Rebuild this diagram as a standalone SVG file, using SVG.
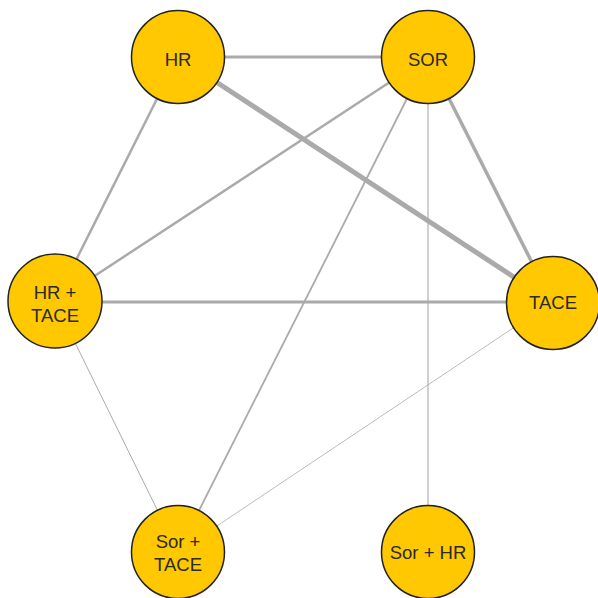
<svg xmlns="http://www.w3.org/2000/svg" width="598" height="598" viewBox="0 0 598 598">
<style>
.e{stroke:#aaaaaa;fill:none;stroke-linecap:butt}
.n circle{fill:#ffc800;stroke:#222;stroke-width:1.5}
.n text{font-family:"Liberation Sans",Arial,sans-serif;font-size:18.5px;fill:#2a2a2a;text-anchor:middle}
</style>
<rect width="598" height="598" fill="#fff"/>
<g id="edges">
<line class="e" x1="178" y1="57" x2="428" y2="57" stroke-width="3.2"/>
<line class="e" x1="178" y1="57" x2="552" y2="302" stroke-width="5"/>
<line class="e" x1="178" y1="57" x2="55" y2="302" stroke-width="2.5"/>
<line class="e" x1="428" y1="57" x2="55" y2="302" stroke-width="2.5"/>
<line class="e" x1="428" y1="57" x2="178" y2="552" stroke-width="1.8"/>
<line class="e" x1="428" y1="57" x2="428" y2="552" stroke-width="1.1" stroke="#bbbbbb"/>
<line class="e" x1="428" y1="57" x2="552" y2="302" stroke-width="3.5"/>
<line class="e" x1="55" y1="302" x2="552" y2="302" stroke-width="3"/>
<line class="e" x1="55" y1="302" x2="178" y2="552" stroke-width="1" stroke="#bbbbbb"/>
<line class="e" x1="552" y1="302" x2="178" y2="552" stroke-width="0.8" stroke="#bbbbbb"/>
</g>
<g id="HR" class="n"><circle cx="178" cy="57" r="46.5"/><text x="178" y="66">HR</text></g>
<g id="SOR" class="n"><circle cx="428" cy="57" r="46.5"/><text x="428" y="66">SOR</text></g>
<g id="HR_TACE" class="n"><circle cx="55" cy="301" r="47"/><text x="55" y="298.5">HR +</text><text x="55" y="321.5">TACE</text></g>
<g id="TACE" class="n"><circle cx="553" cy="303" r="46.5"/><text x="553" y="309">TACE</text></g>
<g id="Sor_TACE" class="n"><circle cx="178" cy="552" r="46.5"/><text x="178" y="548">Sor +</text><text x="178" y="571">TACE</text></g>
<g id="Sor_HR" class="n"><circle cx="428" cy="552" r="46.5"/><text x="428" y="559">Sor + HR</text></g>
</svg>
